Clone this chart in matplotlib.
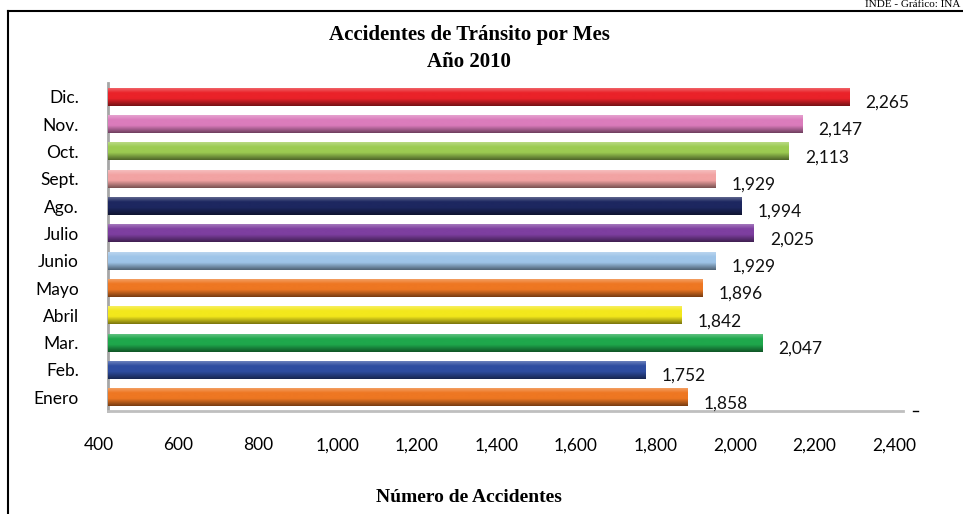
import matplotlib
matplotlib.use("Agg")
import matplotlib.pyplot as plt
import matplotlib.transforms as mtransforms
import numpy as np
from matplotlib.colors import to_rgb

months = ["Enero", "Feb.", "Mar.", "Abril", "Mayo", "Junio", "Julio", "Ago.",
          "Sept.", "Oct.", "Nov.", "Dic."]
values = [1858, 1752, 2047, 1842, 1896, 1929, 2025, 1994, 1929, 2113, 2147, 2265]
colors = ["#EE7722", "#2E4DA0", "#1FA84C", "#F3E81C", "#EE7722", "#9EC4E8",
          "#7E3FA0", "#1D2760", "#F2A3A3", "#9CCB52", "#DB7CBC", "#EA2229"]
xticks = [400, 600, 800, 1000, 1200, 1400, 1600, 1800, 2000, 2200, 2400]

W, H = 963, 514
fig = plt.figure(figsize=(W / 100, H / 100), dpi=100)
ax = fig.add_axes([108 / W, 1 - 411 / H, (903 - 108) / W, (411 - 83) / H])

y = np.arange(len(months))
bars = ax.barh(y, [v - 400 for v in values], left=400, height=0.66,
               color=colors, edgecolor="none", zorder=2)

# cylinder-like shading for each bar
for bar, c in zip(bars, colors):
    rgb = np.array(to_rgb(c))
    light = rgb + (1 - rgb) * 0.35
    dark = rgb * 0.5
    n = 64
    t = np.linspace(0, 1, n)
    grad = np.zeros((n, 1, 3))
    for i, tt in enumerate(t):
        if tt < 0.3:
            f = tt / 0.3
            col = light * (1 - f) + rgb * f
        elif tt < 0.6:
            col = rgb
        else:
            f = (tt - 0.6) / 0.4
            col = rgb * (1 - f) + dark * f
        grad[i, 0] = col
    x0, y0 = bar.get_x(), bar.get_y()
    w, h = bar.get_width(), bar.get_height()
    im = ax.imshow(grad, extent=[x0, x0 + w, y0, y0 + h], origin="upper",
                   aspect="auto", zorder=3, interpolation="bilinear")
    im.set_clip_path(bar)

for yi, v in zip(y, values):
    ax.annotate(f"{v:,}", xy=(v, yi), xytext=(16, -6), textcoords="offset pixels",
                ha="left", va="center", fontsize=12.5, family="Lato", color="#111111")

ax.set_xlim(400, 2400)
ax.set_ylim(-0.5, 11.5)
ax.set_yticks(y)
ax.set_yticklabels(months, fontsize=12.5, family="Lato")
ax.set_xticks(xticks)
ax.set_xticklabels([f"{t:,}" for t in xticks], fontsize=12.5, family="Lato")
ax.tick_params(axis="y", length=0, pad=21)
ax.tick_params(axis="x", length=0, pad=19)
offset = mtransforms.ScaledTranslation(-9 / 100, 0, fig.dpi_scale_trans)
for lab in ax.get_xticklabels():
    lab.set_transform(lab.get_transform() + offset)

for s in ["top", "right"]:
    ax.spines[s].set_visible(False)
ax.spines["left"].set_color("#A6A6A6")
ax.spines["left"].set_linewidth(2)
ax.spines["bottom"].set_color("#BFBFBF")
ax.spines["bottom"].set_linewidth(2)
ax.set_facecolor("none")

fig.text(469 / W, 1 - 35 / H, "Accidentes de Tránsito por Mes", ha="center", va="center",
         fontsize=15, fontweight="bold", family="Liberation Serif")
fig.text(469 / W, 1 - 62 / H, "Año 2010", ha="center", va="center",
         fontsize=15, fontweight="bold", family="Liberation Serif")
fig.text(469 / W, 1 - 497 / H, "Número de Accidentes", ha="center", va="center",
         fontsize=14, fontweight="bold", family="Liberation Serif")
fig.text(960 / W, 1 - 0 / H, "INDE - Gráfico: INA", ha="right", va="top",
         fontsize=8, family="Liberation Serif")

# outer frame lines
fig.add_artist(plt.Line2D([8 / W, 8 / W], [0, 1 - 11 / H], color="black", lw=1.5,
                          transform=fig.transFigure))
fig.add_artist(plt.Line2D([8 / W, 1], [1 - 11 / H, 1 - 11 / H], color="black", lw=1.5,
                          transform=fig.transFigure))
# small axis end mark
fig.add_artist(plt.Line2D([913 / W, 918 / W], [1 - 411 / H, 1 - 411 / H], color="black",
                          lw=1, transform=fig.transFigure))

fig.savefig("out.png", dpi=100)
